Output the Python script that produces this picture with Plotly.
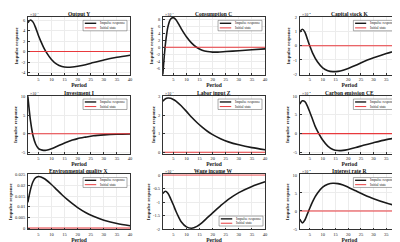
import plotly.graph_objects as go

# ---------------- data ----------------
titles = ["Output Y", "Consumption C", "Capital stock K",
          "Investment I", "Labor input Z", "Carbon emission CE",
          "Environmental quality X", "Wage income W", "Interest rate R"]
exponents = ["-3", "-3", "-4", "-3", "-3", "-4", "", "-3", "-4"]

per_Y = [1, 2, 3, 4, 5, 6, 7, 8, 10, 12, 14, 16, 18, 20, 23, 26, 30, 35, 40]
val_Y = [5.5, 6.0, 5.6, 4.5, 3.1, 1.9, 0.8, -0.1, -1.5, -2.4, -2.85, -3.0, -2.95, -2.8, -2.5, -2.1, -1.6, -1.1, -0.7]

per_C = [1, 2, 3, 4, 5, 6, 7, 8, 10, 12, 14, 16, 18, 20, 22, 25, 30, 35, 40]
val_C = [-7.7, 1.0, 6.0, 8.0, 8.4, 7.8, 6.6, 5.3, 3.0, 1.2, -0.05, -0.8, -1.2, -1.35, -1.35, -1.2, -0.95, -0.7, -0.45]

per_K = [1, 2, 3, 4, 5, 6, 8, 10, 12, 14, 16, 18, 20, 23, 26, 30, 35, 40]
val_K = [0.95, 1.15, 0.95, 0.45, -0.05, -0.5, -1.15, -1.55, -1.75, -1.82, -1.8, -1.72, -1.6, -1.38, -1.12, -0.85, -0.55, -0.3]

per_I = [1, 2, 3, 4, 5, 6, 7, 8, 10, 12, 14, 16, 18, 20, 23, 26, 30, 35, 40]
val_I = [10.0, 3.5, -0.6, -2.8, -3.9, -4.3, -4.45, -4.4, -4.0, -3.4, -2.8, -2.2, -1.7, -1.3, -0.9, -0.55, -0.3, -0.12, -0.05]

per_Z = [1, 2, 3, 4, 5, 6, 8, 10, 12, 14, 16, 18, 20, 23, 26, 30, 35, 40]
val_Z = [2.75, 2.88, 2.92, 2.9, 2.84, 2.75, 2.5, 2.2, 1.88, 1.6, 1.35, 1.13, 0.95, 0.73, 0.56, 0.4, 0.25, 0.14]

per_CE = [1, 2, 3, 4, 5, 6, 7, 8, 10, 12, 14, 16, 18, 20, 23, 26, 30, 35, 40]
val_CE = [7.8, 8.7, 8.5, 7.3, 5.6, 3.8, 2.0, 0.6, -1.7, -3.3, -4.2, -4.5, -4.45, -4.2, -3.7, -3.1, -2.4, -1.6, -1.0]

per_X = [1, 2, 3, 4, 5, 6, 7, 8, 10, 12, 14, 16, 18, 20, 23, 26, 30, 35, 40]
val_X = [0.012, 0.018, 0.0218, 0.0236, 0.0241, 0.0239, 0.0233, 0.0225, 0.0204, 0.018, 0.0156, 0.0134, 0.0114, 0.0096, 0.0073, 0.0055, 0.0037, 0.0021, 0.0011]

per_W = [1, 2, 3, 4, 5, 6, 7, 8, 10, 12, 14, 16, 18, 20, 23, 26, 30, 35, 40]
val_W = [-0.68, -0.6, -0.68, -0.88, -1.1, -1.34, -1.55, -1.73, -1.92, -1.97, -1.9, -1.76, -1.58, -1.4, -1.14, -0.9, -0.65, -0.42, -0.25]

per_R = [1, 2, 3, 4, 5, 6, 7, 8, 10, 12, 14, 16, 18, 20, 23, 26, 30, 35, 40]
val_R = [-2.3, -3.3, -2.5, -0.8, 0.9, 2.5, 3.9, 5.0, 6.6, 7.4, 7.7, 7.6, 7.2, 6.6, 5.6, 4.6, 3.4, 2.2, 1.3]

periods_all = [per_Y, per_C, per_K, per_I, per_Z, per_CE, per_X, per_W, per_R]
values_all = [val_Y, val_C, val_K, val_I, val_Z, val_CE, val_X, val_W, val_R]

steady_x = [1, 40]
steady_y = [0, 0]

x_ticks = [5, 10, 15, 20, 25, 30, 35, 40]
y_ticks = [
    [-4, -2, 0, 2, 4, 6],
    [-6, -4, -2, 0, 2, 4, 6, 8],
    [-2, -1, 0, 1, 2],
    [-5, 0, 5, 10],
    [0, 1, 2, 3],
    [-5, 0, 5, 10],
    [0, 0.005, 0.01, 0.015, 0.02, 0.025],
    [-2, -1.5, -1, -0.5, 0],
    [-5, 0, 5, 10],
]
y_tick_text = [
    ["-4", "-2", "0", "2", "4", "6"],
    ["-6", "-4", "-2", "0", "2", "4", "6", "8"],
    ["-2", "-1", "0", "1", "2"],
    ["-5", "0", "5", "10"],
    ["0", "1", "2", "3"],
    ["-5", "0", "5", "10"],
    ["0", "0.005", "0.01", "0.015", "0.02", "0.025"],
    ["-2", "-1.5", "-1", "-0.5", "0"],
    ["-5", "0", "5", "10"],
]
legend_labels = ["Impulse response", "Initial state"]

# ---------------- layout geometry ----------------
W, H = 400, 242
y_ranges = [[-4.45, 6.6], [-7.8, 8.6], [-2.05, 2.02], [-5.3, 10.2], [-0.07, 3.05],
            [-5.3, 10.1], [-0.0006, 0.0252], [-2.01, 0.03], [-5.1, 10.2]]
col_px = [(20, 123), (156, 259), (294, 394)]
row_px = [(7, 66), (87, 146), (167, 223)]
legend_boxes = [(0.54, 0.97, 0.76, 0.94)] * 7 + [(0.55, 0.98, 0.06, 0.24)] + [(0.54, 0.97, 0.76, 0.94)]

FONT = "Liberation Serif"
BLACK = "#1a1a1a"
RED = "#e8393c"

fig = go.Figure()
shapes = []
annotations = []

for i in range(9):
    r, c = divmod(i, 3)
    n = "" if i == 0 else str(i + 1)
    xa, ya = "x" + n, "y" + n
    fig.add_trace(go.Scatter(x=periods_all[i], y=values_all[i], mode="lines",
                             line=dict(color=BLACK, width=1.6, shape="spline", smoothing=0.8),
                             xaxis=xa, yaxis=ya, showlegend=False, hoverinfo="skip"))
    fig.add_trace(go.Scatter(x=steady_x, y=steady_y, mode="lines",
                             line=dict(color=RED, width=1.1),
                             xaxis=xa, yaxis=ya, showlegend=False, hoverinfo="skip"))
    x0, x1 = col_px[c]
    t, b = row_px[r]
    axis_common = dict(showline=True, linecolor="#333333", linewidth=0.6, mirror=True,
                       ticks="inside", ticklen=2, tickwidth=0.5, tickcolor="#333333",
                       showgrid=True, gridcolor="#ececec", gridwidth=0.5, zeroline=False,
                       tickfont=dict(family=FONT, size=4.5, color="#222222"))
    fig.update_layout(**{
        "xaxis" + n: dict(domain=[x0 / W, x1 / W], range=[1, 40], tickvals=x_ticks,
                          anchor=ya, ticklabelstandoff=0,
                          title=dict(text="<b>Period</b>", standoff=0,
                                     font=dict(family=FONT, size=5.5, color="#222222")),
                          **axis_common),
        "yaxis" + n: dict(domain=[1 - b / H, 1 - t / H], range=y_ranges[i],
                          tickvals=y_ticks[i], ticktext=y_tick_text[i], anchor=xa,
                          ticklabelstandoff=1,
                          title=dict(text="<b>Impulse response</b>", standoff=2,
                                     font=dict(family=FONT, size=5, color="#222222")),
                          **axis_common),
    })
    # panel title
    annotations.append(dict(text="<b>" + titles[i] + "</b>", xref=xa + " domain", yref=ya + " domain",
                            x=0.5, y=1.0, xanchor="center", yanchor="bottom", showarrow=False,
                            yshift=-2, font=dict(family=FONT, size=5.5, color="#111111")))
    # exponent
    if exponents[i]:
        annotations.append(dict(text="×10<sup>" + exponents[i] + "</sup>", xref=xa + " domain",
                                yref=ya + " domain", x=0.0, y=1.0, xanchor="left", yanchor="bottom",
                                showarrow=False, yshift=-2,
                                font=dict(family=FONT, size=4, color="#222222")))
    # legend box
    lx0, lx1, ly0, ly1 = legend_boxes[i]
    xr, yr = xa + " domain", ya + " domain"
    shapes.append(dict(type="rect", xref=xr, yref=yr, x0=lx0, x1=lx1, y0=ly0, y1=ly1,
                       line=dict(color="#555555", width=0.5), fillcolor="white", layer="above"))
    lw = lx1 - lx0
    lh = ly1 - ly0
    rows_y = [ly0 + lh * 0.72, ly0 + lh * 0.28]
    for k, (lab, col, wid) in enumerate(zip(legend_labels, [BLACK, RED], [1.4, 1.0])):
        shapes.append(dict(type="line", xref=xr, yref=yr, x0=lx0 + lw * 0.04, x1=lx0 + lw * 0.3,
                           y0=rows_y[k], y1=rows_y[k], line=dict(color=col, width=wid), layer="above"))
        annotations.append(dict(text=lab, xref=xr, yref=yr, x=lx0 + lw * 0.34, y=rows_y[k],
                                xanchor="left", yanchor="middle", showarrow=False,
                                font=dict(family=FONT, size=3.6, color="#222222")))

fig.update_layout(width=W, height=H, margin=dict(l=0, r=0, t=0, b=0),
                  paper_bgcolor="white", plot_bgcolor="white",
                  shapes=shapes, annotations=annotations, showlegend=False)
fig.write_html("out.html")
